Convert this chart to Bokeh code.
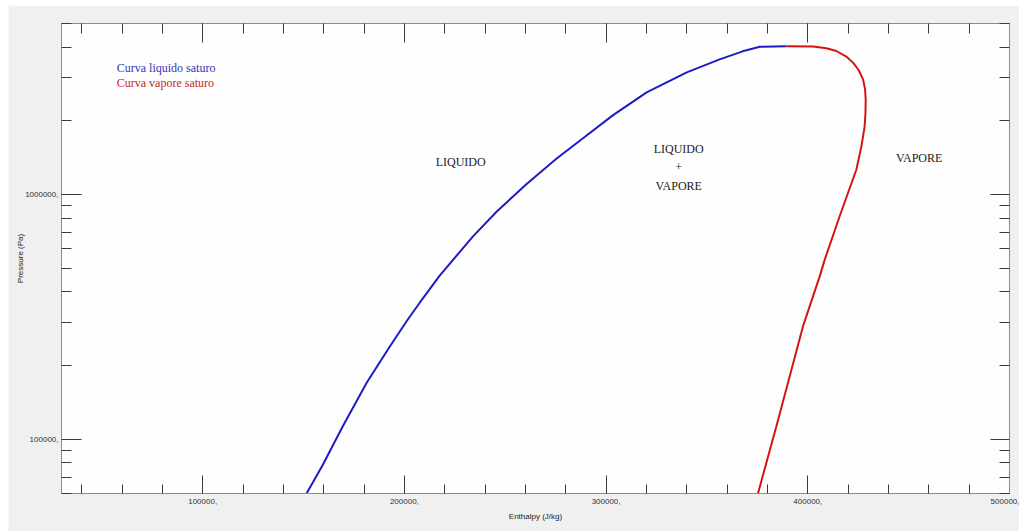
from bokeh.plotting import figure
from bokeh.models import Range1d, FixedTicker, LinearAxis, LogAxis, CustomJSTickFormatter, ColumnDataSource
from bokeh.embed import file_html
from bokeh.resources import INLINE
from bokeh.core.properties import value

# Saturated liquid curve (enthalpy J/kg, pressure Pa)
liq_h = [151500, 159500, 169400, 181300, 192700, 201600, 207600, 217500, 233900,
         245800, 260600, 275500, 288400, 303300, 320100, 340000, 356300, 367700,
         376200, 389500]
liq_p = [60000, 78500, 112800, 170000, 238700, 307800, 361300, 466000, 673200,
         851900, 1104000, 1404000, 1695000, 2106000, 2615000, 3158000, 3569000,
         3848000, 4017000, 4035000]

# Saturated vapour curve
vap_h = [389500, 402600, 409200, 414200, 419100, 422400, 425200, 427400, 428400,
         428700, 428600, 428200, 426600, 424100, 415800, 408400, 405900, 397600,
         391000, 384400, 375300]
vap_p = [4035000, 4023000, 3959000, 3860000, 3662000, 3460000, 3228000, 2956000,
         2690000, 2447000, 2160000, 1904000, 1577000, 1266000, 815000, 542000,
         463000, 289000, 180400, 112600, 60000]

# Region labels
region_text = ["LIQUIDO", "LIQUIDO\n+\nVAPORE", "VAPORE"]
region_h = [227900, 336000, 455200]
region_p = [1352000, 1290000, 1404000]

# Legend labels
legend_text = ["Curva liquido saturo", "Curva vapore saturo"]
legend_h = [57400, 57400]
legend_p = [3280000, 2845000]

x_major = [100000, 200000, 300000, 400000, 500000]
x_minor = list(range(40000, 500001, 20000))
y_major = [100000, 1000000]
y_minor = [m * 10 ** e for e in (4, 5, 6) for m in range(2, 10) if 60000 <= m * 10 ** e <= 5000000]

BLUE = "#1c1cc4"
RED = "#d41414"

p = figure(width=1011, height=526,
           x_range=Range1d(30000, 500000), y_range=Range1d(60000, 5000000),
           y_axis_type="log", output_backend="svg", toolbar_location=None,
           min_border_left=53, min_border_right=10, min_border_top=18, min_border_bottom=38,
           border_fill_color="#f0f0f0", background_fill_color="#fefefe",
           outline_line_color="#8c8c8c")
p.margin = (5, 0, 0, 8)
p.grid.visible = False

xt = FixedTicker(ticks=x_major, minor_ticks=x_minor)
yt = FixedTicker(ticks=y_major, minor_ticks=y_minor)
lab_fmt = CustomJSTickFormatter(code="return tick.toFixed(0) + ',';")


def style(ax, major_in, minor_in):
    ax.axis_line_color = "#8c8c8c"
    ax.major_tick_in = major_in
    ax.major_tick_out = 0
    ax.minor_tick_in = minor_in
    ax.minor_tick_out = 0
    ax.major_tick_line_color = "#3a3a3a"
    ax.minor_tick_line_color = "#3a3a3a"
    ax.major_label_text_font = "Liberation Sans"
    ax.major_label_text_font_size = "8px"
    ax.major_label_text_color = "#333333"
    ax.axis_label_text_font = "Liberation Sans"
    ax.axis_label_text_font_size = "8px"
    ax.axis_label_text_font_style = "normal"
    ax.axis_label_text_color = "#222222"


xa = p.xaxis[0]
xa.ticker = xt
xa.formatter = lab_fmt
xa.axis_label = "Enthalpy (J/kg)"
xa.major_label_standoff = 5
xa.axis_label_standoff = 5
style(xa, 18, 9)

ya = p.yaxis[0]
ya.ticker = yt
ya.formatter = lab_fmt
ya.axis_label = "Pressure (Pa)"
ya.major_label_standoff = 3
ya.axis_label_standoff = -3
style(ya, 20, 10)

empty = CustomJSTickFormatter(code="return '';")
top = LinearAxis(ticker=FixedTicker(ticks=x_major, minor_ticks=x_minor), formatter=empty,
                 major_label_standoff=0)
style(top, 19, 10)
p.add_layout(top, "above")
right = LogAxis(ticker=FixedTicker(ticks=y_major, minor_ticks=y_minor), formatter=empty,
                major_label_standoff=0)
style(right, 19, 10)
p.add_layout(right, "right")

p.line(liq_h, liq_p, line_color=BLUE, line_width=2)
p.line(vap_h, vap_p, line_color=RED, line_width=2)

src = ColumnDataSource(dict(x=region_h, y=region_p, t=region_text))
p.text(x="x", y="y", text="t", source=src, text_font=value("Liberation Serif"),
       text_font_size="12px", text_align="center", text_baseline="middle",
       text_color="#222222", text_line_height=1.3)

lsrc = ColumnDataSource(dict(x=legend_h, y=legend_p, t=legend_text, c=["#3434b8", "#cc2222"]))
p.text(x="x", y="y", text="t", text_color="c", source=lsrc, text_font=value("Liberation Serif"),
       text_font_size="12px", text_align="left", text_baseline="middle")

open("out.html", "w").write(file_html(p, INLINE))
